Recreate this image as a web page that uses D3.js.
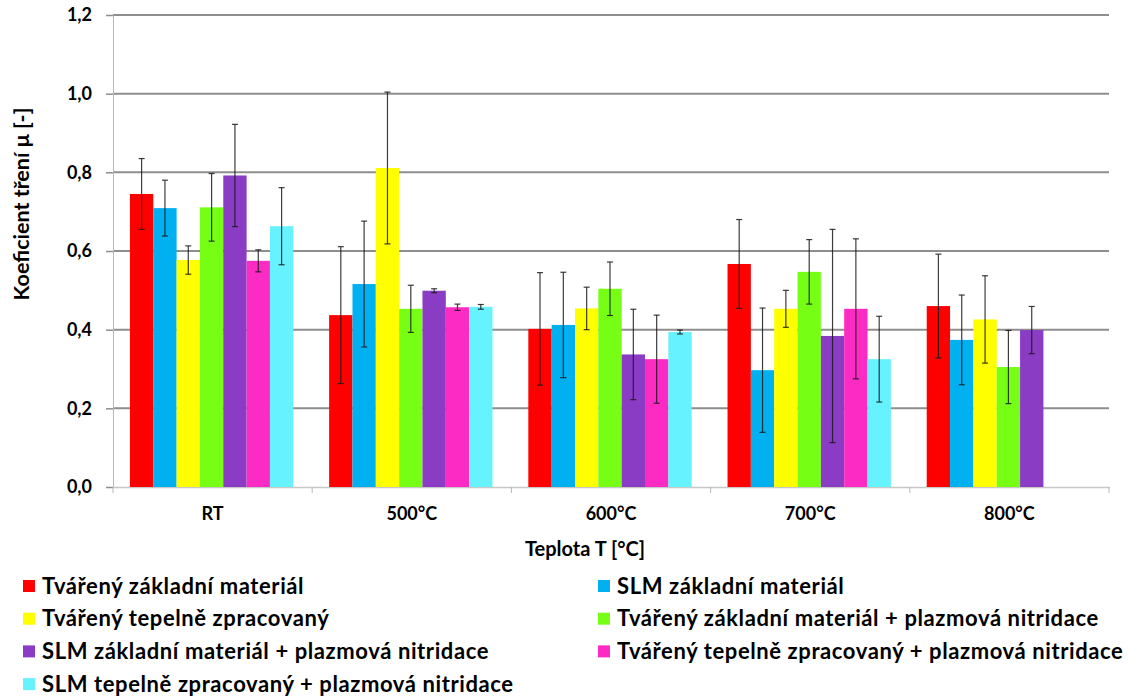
<!DOCTYPE html>
<html>
<head>
<meta charset="utf-8">
<script src="https://cdn.jsdelivr.net/npm/d3@7"></script>
<style>
  body { margin: 0; background: #fff; }
  text { font-family: Lato, "Open Sans", sans-serif; font-weight: bold; fill: #000; }
</style>
</head>
<body>
<svg width="1137" height="697"></svg>
<script>
const categories = ["RT", "500°C", "600°C", "700°C", "800°C"];
const seriesNames = [
  "Tvářený základní materiál",
  "SLM základní materiál",
  "Tvářený tepelně zpracovaný",
  "Tvářený základní materiál + plazmová nitridace",
  "SLM základní materiál + plazmová nitridace",
  "Tvářený tepelně zpracovaný + plazmová nitridace",
  "SLM tepelně zpracovaný + plazmová nitridace"
];
const colors = ["#ff0000", "#00b0f0", "#ffff00", "#76ff14", "#8a3cc4", "#fb2bc3", "#66f2ff"];

// mean values per series, one value per category (null = not measured)
const tvarenyZakladni = [0.745, 0.437, 0.402, 0.567, 0.460];
const slmZakladni     = [0.709, 0.516, 0.412, 0.297, 0.374];
const tvarenyTepelne  = [0.577, 0.811, 0.454, 0.453, 0.426];
const tvarenyNitr     = [0.711, 0.453, 0.504, 0.547, 0.305];
const slmNitr         = [0.792, 0.499, 0.337, 0.384, 0.399];
const tvarenyTepNitr  = [0.575, 0.457, 0.325, 0.453, null];
const slmTepNitr      = [0.663, 0.458, 0.394, 0.325, null];

// standard deviations (error bars)
const errTvarenyZakladni = [0.090, 0.174, 0.143, 0.113, 0.132];
const errSlmZakladni     = [0.071, 0.160, 0.134, 0.158, 0.114];
const errTvarenyTepelne  = [0.036, 0.193, 0.054, 0.047, 0.111];
const errTvarenyNitr     = [0.086, 0.060, 0.068, 0.082, 0.093];
const errSlmNitr         = [0.130, 0.005, 0.115, 0.271, 0.060];
const errTvarenyTepNitr  = [0.028, 0.008, 0.112, 0.178, null];
const errSlmTepNitr      = [0.098, 0.006, 0.005, 0.109, null];

const yTicks = [0, 0.2, 0.4, 0.6, 0.8, 1.0, 1.2];

const values = [tvarenyZakladni, slmZakladni, tvarenyTepelne, tvarenyNitr, slmNitr, tvarenyTepNitr, slmTepNitr];
const errors = [errTvarenyZakladni, errSlmZakladni, errTvarenyTepelne, errTvarenyNitr, errSlmNitr, errTvarenyTepNitr, errSlmTepNitr];

let svg = d3.select("svg");
const margin = {left: 113, right: 28, top: 15, bottom: 210};
const width = 1137 - margin.left - margin.right;
const height = 697 - margin.top - margin.bottom;

let g = svg.append("g").attr("transform", `translate(${margin.left},${margin.top})`);

let x0 = d3.scaleBand().domain(categories).range([0, width]).padding(0);
let x1 = d3.scaleBand().domain(d3.range(seriesNames.length))
  .range([x0.bandwidth() * 0.085, x0.bandwidth() * 0.905]).padding(0);
let y = d3.scaleLinear().domain([0, 1.2]).range([height, 0]);

// gridlines
g.append("g")
  .selectAll("line")
  .data(yTicks.filter(t => t > 0))
  .enter().append("line")
    .attr("x1", 0).attr("x2", width)
    .attr("y1", d => y(d)).attr("y2", d => y(d))
    .attr("stroke", "#8e8e8e")
    .attr("stroke-width", 2);

// y axis
let yAxis = g.append("g")
  .call(d3.axisLeft(y).tickValues(yTicks).tickSize(7).tickPadding(14)
    .tickFormat(d => d3.format(".1f")(d).replace(".", ",")));
yAxis.select(".domain").attr("stroke", "#b8b8b8").attr("stroke-width", 1);
yAxis.selectAll(".tick line").attr("stroke", "#8e8e8e").attr("stroke-width", 1.5);
yAxis.selectAll("text").attr("font-size", 18).attr("font-family", "Lato").attr("font-weight", "bold");

// x axis
let xAxis = g.append("g")
  .attr("transform", `translate(0,${height})`)
  .call(d3.axisBottom(x0).tickSize(0).tickPadding(20));
xAxis.select(".domain").attr("stroke", "#c8c8c8").attr("stroke-width", 1.5);
xAxis.selectAll("text").attr("font-size", 18).attr("font-family", "Lato").attr("font-weight", "bold");
g.append("g")
  .selectAll("line")
  .data(d3.range(categories.length + 1))
  .enter().append("line")
    .attr("x1", i => i * x0.step()).attr("x2", i => i * x0.step())
    .attr("y1", height).attr("y2", height + 6)
    .attr("stroke", "#b8b8b8");

// bars
let bars = [];
values.forEach((vals, s) => {
  vals.forEach((v, c) => {
    if (v !== null) bars.push({s: s, c: categories[c], v: v, e: errors[s][c]});
  });
});

g.append("g")
  .selectAll("rect")
  .data(bars)
  .enter().append("rect")
    .attr("x", d => x0(d.c) + x1(d.s))
    .attr("y", d => y(d.v))
    .attr("width", x1.bandwidth())
    .attr("height", d => height - y(d.v))
    .attr("fill", d => colors[d.s]);

// error bars
let err = g.append("g")
  .selectAll("g")
  .data(bars)
  .enter().append("g")
    .attr("stroke", "#1a1a1a")
    .attr("stroke-opacity", 0.85)
    .attr("stroke-width", 1.2);
const cap = 3;
err.append("line")
  .attr("x1", d => x0(d.c) + x1(d.s) + x1.bandwidth() / 2)
  .attr("x2", d => x0(d.c) + x1(d.s) + x1.bandwidth() / 2)
  .attr("y1", d => y(d.v + d.e))
  .attr("y2", d => y(d.v - d.e));
[1, -1].forEach(sign => {
  err.append("line")
    .attr("x1", d => x0(d.c) + x1(d.s) + x1.bandwidth() / 2 - cap)
    .attr("x2", d => x0(d.c) + x1(d.s) + x1.bandwidth() / 2 + cap)
    .attr("y1", d => y(d.v + sign * d.e))
    .attr("y2", d => y(d.v + sign * d.e));
});

// axis titles
svg.append("text")
  .attr("transform", `translate(29,204) rotate(-90)`)
  .attr("text-anchor", "middle")
  .attr("font-size", 21.5)
  .text("Koeficient tření μ [-]");

svg.append("text")
  .attr("x", 585).attr("y", 556)
  .attr("text-anchor", "middle")
  .attr("font-size", 20)
  .text("Teplota T [°C]");

// legend, two columns
let legend = svg.append("g")
  .selectAll("g")
  .data(seriesNames)
  .enter().append("g")
    .attr("transform", (d, i) => `translate(${i % 2 === 0 ? 23 : 598},${586 + Math.floor(i / 2) * 32.7})`);
legend.append("rect")
  .attr("x", 0).attr("y", -6)
  .attr("width", 12).attr("height", 12)
  .attr("fill", (d, i) => colors[i]);
legend.append("text")
  .attr("x", 19).attr("y", 0)
  .attr("dy", "0.35em")
  .attr("font-size", 22)
  .attr("letter-spacing", 0.6)
  .text(d => d);
</script>
</body>
</html>
